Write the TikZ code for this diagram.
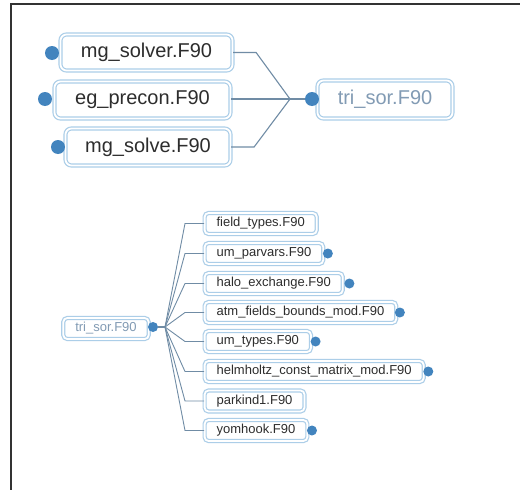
\documentclass[tikz,border=0pt]{standalone}
\usepackage{fontspec}
\setmainfont{Liberation Sans}
\usetikzlibrary{calc}
\definecolor{bordc}{RGB}{172,206,232}
\definecolor{dotc}{RGB}{66,132,190}
\definecolor{linec}{RGB}{112,140,165}
\definecolor{txtc}{RGB}{45,45,45}
\definecolor{paletxt}{RGB}{130,155,180}
\definecolor{framec}{RGB}{50,50,50}
\tikzset{
  boxbase/.style={draw=bordc, line width=1.2pt, double=white, double distance=1.8pt,
    rounded corners=6pt, fill=white, text=txtc},
  bigbox/.style={boxbase, font=\fontsize{20}{24}\selectfont, inner sep=0pt},
  smallbox/.style={boxbase, font=\fontsize{13}{15}\selectfont, inner xsep=12pt,
    minimum height=21pt, anchor=west, rounded corners=4pt},
  bigdot/.style={circle, fill=dotc, inner sep=0pt, minimum size=14pt},
  smalldot/.style={circle, fill=dotc, inner sep=0pt, minimum size=10pt},
  conn/.style={draw=linec, line width=1.1pt},
}
\begin{document}
\begin{tikzpicture}[x=1pt,y=-1pt]
\useasboundingbox (0,0) rectangle (520,490);
\fill[white] (0,0) rectangle (520,490);
% frame
\draw[framec, line width=1.8pt] (11,490) -- (11,4) -- (520,4);

% ---------- top diagram ----------
\node[bigbox, minimum width=172pt, minimum height=36pt] (ms) at (146.5,52.5) {mg\_solver.F90};
\node[bigbox, minimum width=176pt, minimum height=37pt] (ep) at (142.5,100) {eg\_precon.F90};
\node[bigbox, minimum width=165pt, minimum height=37pt] (mv) at (148,147) {mg\_solve.F90};
\node[bigbox, minimum width=135pt, minimum height=38pt, text=paletxt] (ts) at (385,99.5) {tri\_sor.F90};

\coordinate (J1) at (290,99);
\node[bigdot] (msd) at (52,53) {};
\node[bigdot] (epd) at (45,99) {};
\node[bigdot] (mvd) at (58,147) {};
\node[bigdot] (tsd) at (312,99) {};

\draw[conn] (ms.east) -- ++(23,0) -- (J1);
\draw[conn] (mv.east) -- ++(23,0) -- (J1);
\draw[conn] (ep.east |- tsd) -- (tsd);

% ---------- bottom diagram ----------
\node[smallbox, text=paletxt, anchor=center] (bts) at (106,328.5) {tri\_sor.F90};
\node[smalldot] (btsd) at (153,327) {};
\coordinate (J2) at (165,327);
\coordinate (trunk) at (185,327);

\node[smallbox] (c1) at (204,223.5) {field\_types.F90};
\node[smallbox] (c2) at (204,253.5) {um\_parvars.F90};
\node[smallbox] (c3) at (204,283.5) {halo\_exchange.F90};
\node[smallbox] (c4) at (204,312.5) {atm\_fields\_bounds\_mod.F90};
\node[smallbox] (c5) at (204,341.5) {um\_types.F90};
\node[smallbox] (c6) at (204,371.5) {helmholtz\_const\_matrix\_mod.F90};
\node[smallbox] (c7) at (204,401) {parkind1.F90};
\node[smallbox] (c8) at (204,430.5) {yomhook.F90};

\node[smalldot] (c2d) at ($(c2.east)+(4,0)$) {};
\node[smalldot] (c3d) at ($(c3.east)+(6,0)$) {};
\node[smalldot] (c4d) at ($(c4.east)+(3,0)$) {};
\node[smalldot] (c5d) at ($(c5.east)+(4,0)$) {};
\node[smalldot] (c6d) at ($(c6.east)+(4,0)$) {};
\node[smalldot] (c8d) at ($(c8.east)+(4,0)$) {};

\draw[conn] (btsd) -- (J2);
\foreach \c in {c1,c2,c3,c4,c5,c6,c7,c8}{
  \draw[conn, line width=0.9pt] (J2) -- (trunk |- \c.west) -- (\c.west);
}
\end{tikzpicture}
\end{document}
